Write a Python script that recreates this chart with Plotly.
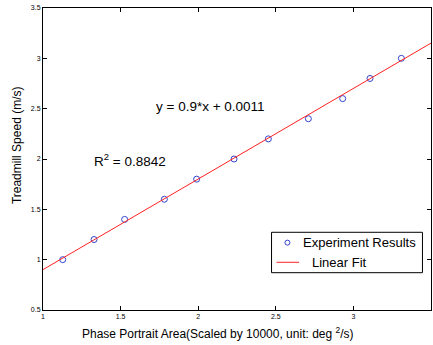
import plotly.graph_objects as go

area = [1.127, 1.329, 1.526, 1.782, 1.990, 2.231, 2.452, 2.710, 2.931, 3.107, 3.309]
speed = [1.0, 1.2, 1.4, 1.6, 1.8, 2.0, 2.2, 2.4, 2.6, 2.8, 3.0]
fit_x = [1.0, 3.5]
slope = 0.9
intercept = 0.0011
fit_y = [slope * v + intercept for v in fit_x]

x_ticks = [1, 1.5, 2, 2.5, 3, 3.5]
x_tick_text = ["1", "1.5", "2", "2.5", "3", "3.5"]
y_ticks = [0.5, 1, 1.5, 2, 2.5, 3, 3.5]
y_tick_text = ["0.5", "1", "1.5", "2", "2.5", "3", "3.5"]

series_names = ["Experiment Results", "Linear Fit"]
marker_color = "#3344cc"
line_color = "#ff2020"
FONT = "Liberation Sans, Arial, sans-serif"

fig = go.Figure()
fig.add_trace(go.Scatter(
    x=area, y=speed, mode="markers", name=series_names[0], showlegend=False,
    marker=dict(symbol="circle-open", size=6, color=marker_color, line=dict(width=1)),
))
fig.add_trace(go.Scatter(
    x=fit_x, y=fit_y, mode="lines", name=series_names[1], showlegend=False,
    line=dict(color=line_color, width=1),
))

axis_common = dict(
    showgrid=False, zeroline=False, showline=True, linecolor="black", linewidth=1,
    mirror="ticks", ticks="inside", ticklen=4, tickcolor="black",
    tickfont=dict(family=FONT, size=7, color="black"),
)

# manual legend (box, symbols, labels) in paper coordinates
shapes = [
    dict(type="rect", xref="paper", yref="paper", x0=0.589, x1=0.978, y0=0.1235, y1=0.2573,
         line=dict(color="black", width=1), fillcolor="white", layer="above"),
    dict(type="line", xref="paper", yref="paper", x0=0.602, x1=0.660, y0=0.158, y1=0.158,
         line=dict(color=line_color, width=1), layer="above"),
    dict(type="circle", xref="paper", yref="paper", x0=0.630 - 0.0064, x1=0.630 + 0.0064,
         y0=0.223 - 0.0083, y1=0.223 + 0.0083, line=dict(color=marker_color, width=1), layer="above"),
]

annotations = [
    dict(x=2.076, y=2.517, xref="x", yref="y", text="y = 0.9*x + 0.0011",
         showarrow=False, font=dict(size=13.5)),
    dict(x=1.56, y=1.99, xref="x", yref="y", text="R<sup>2</sup> = 0.8842",
         showarrow=False, font=dict(size=13.5)),
    dict(x=0.665, y=0.223, xref="paper", yref="paper", xanchor="left", yanchor="middle",
         text=series_names[0], showarrow=False, font=dict(size=13)),
    dict(x=0.688, y=0.158, xref="paper", yref="paper", xanchor="left", yanchor="middle",
         text=series_names[1], showarrow=False, font=dict(size=13)),
    dict(x=0.451, y=-0.076, xref="paper", yref="paper", xanchor="center", yanchor="middle",
         text="Phase Portrait Area(Scaled by 10000, unit: deg <sup>2</sup>/s)",
         showarrow=False, font=dict(size=12)),
    dict(x=-0.067, y=0.546, xref="paper", yref="paper", xanchor="center", yanchor="middle",
         text="Treadmill Speed (m/s)", textangle=-90,
         showarrow=False, font=dict(size=12)),
]

fig.update_layout(
    width=433, height=345,
    margin=dict(l=43, r=2, t=8, b=35),
    plot_bgcolor="white", paper_bgcolor="white",
    font=dict(family=FONT, color="black"),
    showlegend=False,
    xaxis=dict(range=[1, 3.5], tickvals=x_ticks, ticktext=x_tick_text, **axis_common),
    yaxis=dict(range=[0.5, 3.5], tickvals=y_ticks, ticktext=y_tick_text, **axis_common),
    shapes=shapes,
    annotations=annotations,
)

fig.write_html("out.html")
